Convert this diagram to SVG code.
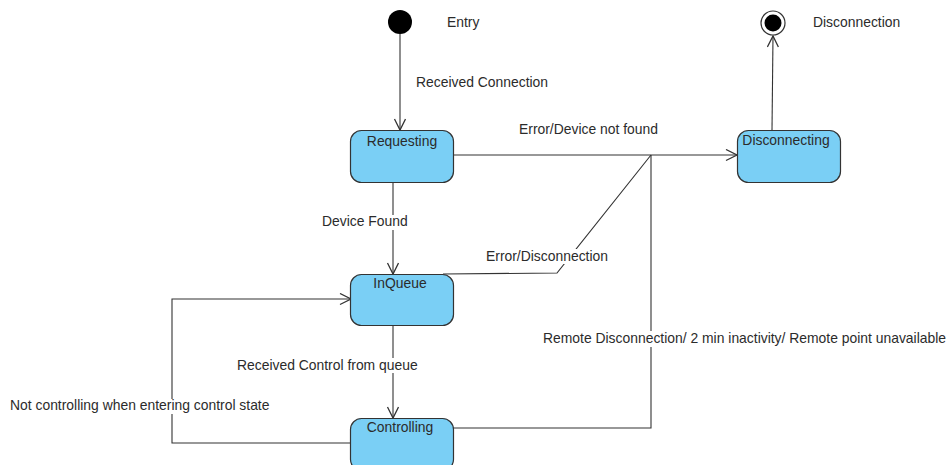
<svg xmlns="http://www.w3.org/2000/svg" width="950" height="465" viewBox="0 0 950 465">
<style>
text{font-family:"Liberation Sans",Arial,sans-serif;font-size:13.9px;fill:#2b2b2b}
.st{fill:#7acff5;stroke:#333;stroke-width:1.2}
.c{fill:none;stroke:#333;stroke-width:1.1}
.bg{fill:#fff}
.mid{text-anchor:middle}
</style>
<defs>
<marker id="arr" markerUnits="userSpaceOnUse" markerWidth="14" markerHeight="14" refX="12" refY="6" orient="auto">
<path d="M1,0.5 L12,6 L1,11.5" fill="none" stroke="#333" stroke-width="1.3"/>
</marker>
</defs>
<g id="connectors">
<path class="c" d="M400,34 L400,130" marker-end="url(#arr)"/>
<path class="c" d="M453,155 L737,155" marker-end="url(#arr)"/>
<path class="c" d="M393,182 L393,274" marker-end="url(#arr)"/>
<path class="c" d="M443,274 L557,273 L651,155"/>
<path class="c" d="M453,428 L651,428 L651,155"/>
<path class="c" d="M393,325 L393,418" marker-end="url(#arr)"/>
<path class="c" d="M351,443 L172,443 L172,299 L351,299" marker-end="url(#arr)"/>
<path class="c" d="M772,130 L773,36" marker-end="url(#arr)"/>
<rect class="bg" x="320" y="215" width="90" height="15"/>
<rect class="bg" x="484" y="249" width="127" height="15"/>
<rect class="bg" x="235" y="358" width="187" height="15"/>
<rect class="bg" x="541" y="331" width="409" height="16"/>
<rect class="bg" x="8" y="399" width="267" height="15"/>
<text x="416" y="87">Received Connection</text>
<text x="519" y="134">Error/Device not found</text>
<text x="322" y="226">Device Found</text>
<text x="486" y="261">Error/Disconnection</text>
<text x="237" y="370">Received Control from queue</text>
<text x="543" y="343">Remote Disconnection/ 2 min inactivity/ Remote point unavailable</text>
<text x="10" y="410">Not controlling when entering control state</text>
</g>
<g id="entry">
<circle cx="400" cy="22" r="12" fill="#000"/>
<text x="447" y="27">Entry</text>
</g>
<g id="final">
<circle cx="773" cy="23" r="12" fill="#fff" stroke="#333" stroke-width="1.2"/>
<circle cx="773" cy="23" r="8.5" fill="#000"/>
<text x="813" y="27">Disconnection</text>
</g>
<g id="requesting">
<rect class="st" x="350.5" y="130.5" width="103" height="52" rx="11"/>
<text class="mid" x="402" y="146">Requesting</text>
</g>
<g id="disconnecting">
<rect class="st" x="737.5" y="130.5" width="103" height="52" rx="11"/>
<text class="mid" x="786" y="145">Disconnecting</text>
</g>
<g id="inqueue">
<rect class="st" x="350.5" y="274.5" width="103" height="51" rx="11"/>
<text class="mid" x="400" y="288">InQueue</text>
</g>
<g id="controlling">
<rect class="st" x="350.5" y="418.5" width="103" height="52" rx="11"/>
<text class="mid" x="400" y="432">Controlling</text>
</g>
</svg>
